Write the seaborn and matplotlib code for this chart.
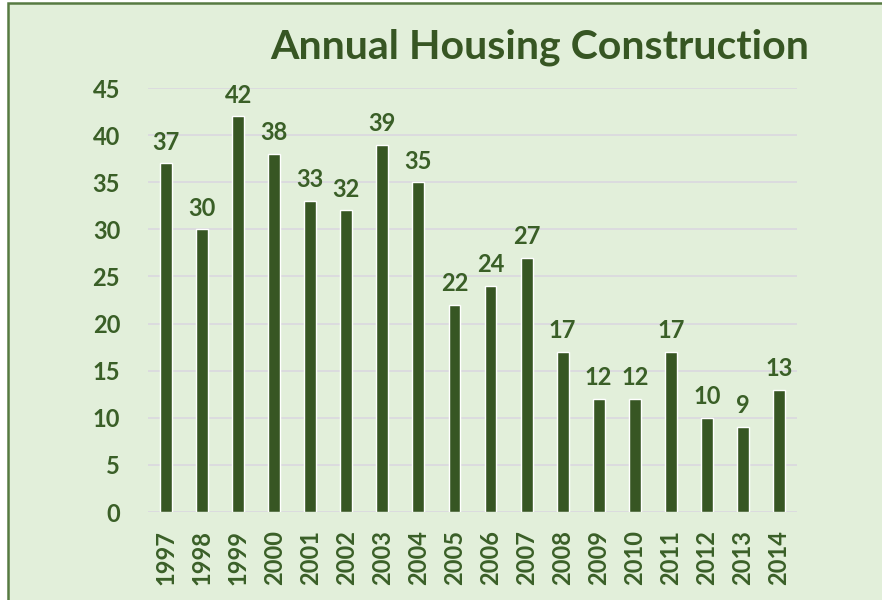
import matplotlib
matplotlib.use("Agg")
import matplotlib.pyplot as plt
import seaborn as sns
import pandas as pd
from matplotlib.patches import Rectangle

years = ["1997", "1998", "1999", "2000", "2001", "2002", "2003", "2004", "2005",
         "2006", "2007", "2008", "2009", "2010", "2011", "2012", "2013", "2014"]
units = [37, 30, 42, 38, 33, 32, 39, 35, 22, 24, 27, 17, 12, 12, 17, 10, 9, 13]
y_ticks = [0, 5, 10, 15, 20, 25, 30, 35, 40, 45]
title = "Annual Housing Construction"

BG = "#E2EFDA"
BAR = "#375623"
TXT = "#3A5F27"
GRID = "#DAD8DF"

sns.set_theme(style="white")
plt.rcParams["font.family"] = ["Lato", "DejaVu Sans"]

df = pd.DataFrame({"year": years, "units": units})

fig = plt.figure(figsize=(8.82, 6.0), dpi=100, facecolor="white")
# chart area panel with a green frame, drawn beneath the axes
fig.patches.append(Rectangle((8 / 882, -0.01), 1.0, 1.01 - 3 / 600, transform=fig.transFigure,
                             facecolor=BG, edgecolor="#577A42", linewidth=1.8, zorder=-10))

ax = fig.add_axes([148 / 882, 1 - 512 / 600, (797 - 148) / 882, (512 - 88) / 600])
ax.patch.set_alpha(0)

sns.barplot(data=df, x="year", y="units", color=BAR, width=0.33, saturation=1,
            ax=ax, zorder=3)

ax.set_ylim(0, 45)
ax.set_yticks(y_ticks)
ax.yaxis.grid(True, color=GRID, linewidth=1.2, zorder=0)
ax.set_axisbelow(True)
for s in ax.spines.values():
    s.set_visible(False)
ax.set_xlabel("")
ax.set_ylabel("")
ax.tick_params(axis="y", length=0, pad=20, labelsize=17, labelcolor=TXT)
ax.tick_params(axis="x", length=0, pad=13, labelsize=17, labelcolor=TXT,
               rotation=90)
for lab in ax.get_xticklabels() + ax.get_yticklabels():
    lab.set_fontweight("bold")

for cont in ax.containers:
    ax.bar_label(cont, labels=[str(v) for v in units], padding=7,
                 fontsize=17, fontweight="bold", color=TXT)

fig.text(540 / 882, 1 - 47 / 600, title, ha="center", va="center",
         fontsize=29.5, fontweight="bold", color=BAR)

fig.savefig("out.png", dpi=100, facecolor="white")
